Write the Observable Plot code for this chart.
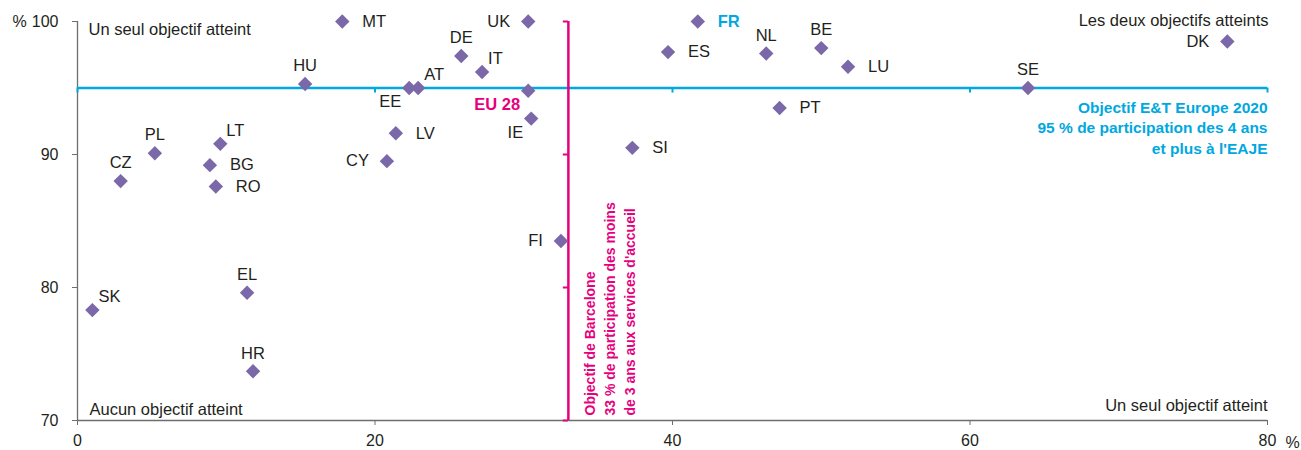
<!DOCTYPE html>
<html><head><meta charset="utf-8">
<script src="https://cdn.jsdelivr.net/npm/d3@7"></script>
<script src="https://cdn.jsdelivr.net/npm/@observablehq/plot@0.6"></script>
<style>
body{margin:0;background:#fff;}
#chart svg{font-family:"Liberation Sans",Arial,sans-serif;}
</style>
</head><body><div id="chart"></div>
<script>
// ---- data ----
const countries = ["MT","UK","FR","DK","BE","NL","ES","LU","DE","IT","HU","EE","AT","EU 28","SE","PT","IE","SI","LT","PL","BG","RO","CZ","LV","CY","FI","SK","EL","HR"];
// % of children under 3 in childcare (x)
const under3 = [17.8,30.3,41.7,77.3,50.0,46.3,39.7,51.8,25.8,27.2,15.3,22.3,22.9,30.3,63.9,47.2,30.5,37.3,9.6,5.2,8.9,9.3,2.9,21.4,20.8,32.5,1.0,11.4,11.8];
// % participation of 4-year-olds and over in ECEC (y)
const over4 = [100,100,100,98.5,98.0,97.6,97.7,96.6,97.4,96.2,95.3,95.0,95.0,94.8,95.0,93.5,92.7,90.5,90.8,90.1,89.2,87.6,88.0,91.6,89.5,83.5,78.3,79.6,73.7];
// label placement codes (categorical)
const labelPos = ["r","l","r","l","t","t","r","r","t","tr","t","bl","tr","bl","t","r","bl","r","tr","t","r","r","t","r","l","l","tr","t","t"];
const xTicks = [0,20,40,60,80];
const yTicks = [70,80,90,100];
const targetET = 95;
const targetBarcelona = 33;
const quadrantLabels = ["Un seul objectif atteint","Les deux objectifs atteints","Aucun objectif atteint","Un seul objectif atteint"];
const etLabel = "Objectif E&T Europe 2020\n95 % de participation des 4 ans\net plus à l'EAJE";
const barcelonaLabel = "Objectif de Barcelone\n33 % de participation des moins\nde 3 ans aux services d'accueil";

// ---- styles ----
const purple = "#7b68a8", blue = "#00a8e1", pink = "#e6007e", ink = "#231f20", axisCol = "#6e6e6e";
const FS = 16.5, FT = 16, FB = 15.5;
const rows = countries.map((c,i)=>({country:c, x:under3[i], y:over4[i], pos:labelPos[i]}));
const posStyle = {
  r:  {dx: 20, dy: 0, textAnchor: "start"},
  l:  {dx: -18, dy: 0, textAnchor: "end"},
  t:  {dx: 0, dy: -18, textAnchor: "middle"},
  tr: {dx: 6, dy: -13, textAnchor: "start"},
  bl: {dx: -8, dy: 14, textAnchor: "end"}
};
function labels(filter, extra) {
  return Object.keys(posStyle).map(k => Plot.text(rows.filter(d => d.pos === k && filter(d)), {
    x: "x", y: "y", text: "country", lineAnchor: "middle", fontSize: FS,
    ...posStyle[k], ...extra
  }));
}

const chart = Plot.plot({
  width: 1301, height: 450,
  marginLeft: 77, marginRight: 34, marginTop: 21, marginBottom: 30,
  style: {color: ink, fontSize: FS + "px"},
  x: {domain: [0, 80]},
  y: {domain: [70, 100]},
  marks: [
    Plot.axisX({ticks: xTicks, tickSize: 5, tickPadding: 9, label: null, fontSize: FT, stroke: axisCol}),
    Plot.axisY({ticks: yTicks, tickSize: 5, tickPadding: 14, label: null, fontSize: FT, stroke: axisCol}),
    Plot.ruleY([70], {stroke: axisCol, strokeWidth: 1.3}),
    Plot.ruleX([0], {stroke: axisCol, strokeWidth: 1.3}),
    Plot.text(["%"], {text: d => d, frameAnchor: "top-left", dx: -65, dy: 0, textAnchor: "start", lineAnchor: "middle", fontSize: FT}),
    Plot.text(["%"], {text: d => d, frameAnchor: "bottom-right", dx: 18, dy: 22, textAnchor: "start", lineAnchor: "middle", fontSize: FT}),
    // ET 2020 target
    Plot.ruleY([targetET], {stroke: blue, strokeWidth: 2.5}),
    Plot.ruleX(xTicks, {x: d => d, y1: targetET, y2: targetET - 0.38, stroke: blue, strokeWidth: 2}),
    Plot.text([etLabel], {text: d => d, x: 80, y: targetET, dy: 11, textAnchor: "end", lineAnchor: "top", lineHeight: 1.3, fill: blue, fontWeight: "bold", fontSize: FB}),
    // Barcelona target
    Plot.ruleX([targetBarcelona], {stroke: pink, strokeWidth: 2.5}),
    Plot.ruleY(yTicks, {y: d => d, x1: targetBarcelona - 0.34, x2: targetBarcelona, stroke: pink, strokeWidth: 2}),
    Plot.text([barcelonaLabel], {text: d => d, x: targetBarcelona, y: 70, dx: 12, dy: -5, rotate: -90, textAnchor: "start", lineAnchor: "top", lineHeight: 1.43, fill: pink, fontWeight: "bold", fontSize: 14}),
    // quadrant labels
    Plot.text([quadrantLabels[0]], {text: d => d, frameAnchor: "top-left", dx: 11, dy: 8, textAnchor: "start", lineAnchor: "middle", fontSize: FS}),
    Plot.text([quadrantLabels[1]], {text: d => d, frameAnchor: "top-right", dx: 1, dy: -1, textAnchor: "end", lineAnchor: "middle", fontSize: FS}),
    Plot.text([quadrantLabels[2]], {text: d => d, frameAnchor: "bottom-left", dx: 12, dy: -11, textAnchor: "start", lineAnchor: "middle", fontSize: FS}),
    Plot.text([quadrantLabels[3]], {text: d => d, frameAnchor: "bottom-right", dx: 0, dy: -15, textAnchor: "end", lineAnchor: "middle", fontSize: FS}),
    // points
    Plot.dot(rows, {x: "x", y: "y", symbol: "diamond2", r: 6.5, fill: purple, stroke: "none"}),
    ...labels(d => d.country !== "FR" && d.country !== "EU 28", {fill: ink}),
    ...labels(d => d.country === "FR", {fill: blue, fontWeight: "bold"}),
    ...labels(d => d.country === "EU 28", {fill: pink, fontWeight: "bold"})
  ]
});
document.getElementById("chart").appendChild(chart);
</script></body></html>
